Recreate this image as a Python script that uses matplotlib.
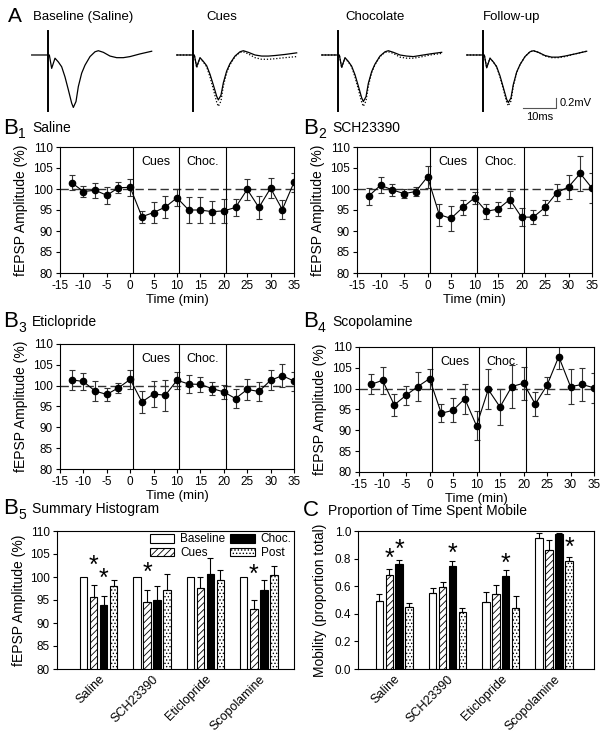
import matplotlib
matplotlib.use("Agg")
import matplotlib.pyplot as plt
import numpy as np

plt.rcParams['font.family'] = ['Liberation Sans', 'DejaVu Sans']
plt.rcParams['hatch.linewidth'] = 0.6
plt.rcParams['axes.linewidth'] = 0.8
plt.rcParams['axes.unicode_minus'] = False

# ---- panel A: example fEPSP traces (ms after stimulus, mV) ----
trace_t = [-5, 0, 0.3, 1.0, 2.0, 3.0, 4.0, 5.0, 6.0, 7.0, 7.5, 8.3, 9.0, 10.0,
           11.0, 12.5, 14.0, 15.0, 16.5, 18.5, 20.5, 22.5, 24.5, 27.5, 31.0]
v_baseline = [0, 0, 0, -0.25, -0.06, -0.13, -0.22, -0.41, -0.65, -0.90, -0.98, -0.87, -0.59, -0.34,
              -0.19, -0.03, 0.06, 0.08, 0.05, -0.02, -0.05, -0.05, -0.03, 0.02, 0.07]
v_cues = [0, 0, 0, -0.22, -0.05, -0.12, -0.20, -0.36, -0.56, -0.77, -0.84, -0.75, -0.52, -0.30,
          -0.16, -0.02, 0.06, 0.08, 0.05, 0.00, -0.02, -0.02, -0.01, 0.01, 0.04]
v_cues_ref = [0, 0, 0, -0.24, -0.06, -0.13, -0.22, -0.41, -0.64, -0.88, -0.96, -0.86, -0.58, -0.33,
              -0.18, -0.03, 0.05, 0.06, 0.02, -0.05, -0.08, -0.08, -0.07, -0.05, -0.03]
v_choc = [0, 0, 0, -0.23, -0.05, -0.12, -0.21, -0.37, -0.58, -0.80, -0.87, -0.78, -0.53, -0.31,
          -0.17, -0.02, 0.06, 0.08, 0.05, 0.00, -0.02, -0.03, -0.01, 0.02, 0.05]
v_choc_ref = [0, 0, 0, -0.24, -0.06, -0.13, -0.22, -0.41, -0.64, -0.88, -0.96, -0.86, -0.58, -0.33,
              -0.18, -0.03, 0.05, 0.06, 0.03, -0.04, -0.06, -0.06, -0.04, 0.00, 0.03]
v_follow = [0, 0, 0, -0.24, -0.06, -0.13, -0.22, -0.39, -0.61, -0.83, -0.89, -0.80, -0.55, -0.32,
            -0.18, -0.03, 0.06, 0.08, 0.05, -0.01, -0.04, -0.04, -0.02, 0.02, 0.07]
v_follow_ref = [0, 0, 0, -0.24, -0.06, -0.13, -0.22, -0.41, -0.64, -0.88, -0.95, -0.86, -0.58, -0.33,
                -0.18, -0.03, 0.06, 0.08, 0.05, -0.02, -0.05, -0.05, -0.03, 0.02, 0.07]
trace_titles = ['Baseline (Saline)', 'Cues', 'Chocolate', 'Follow-up']

# ---- panels B1-B4: fEPSP time course ----
time_min = [-12.5, -10, -7.5, -5, -2.5, 0, 2.5, 5, 7.5, 10, 12.5, 15, 17.5, 20,
            22.5, 25, 27.5, 30, 32.5, 35]
saline_mean = [101.5, 99.4, 99.7, 98.5, 100.3, 100.4, 93.4, 94.4, 95.7, 97.9,
               95.0, 95.0, 94.6, 94.8, 95.6, 99.9, 95.6, 100.2, 95.1, 101.6]
saline_sem = [1.8, 1.3, 1.8, 2.0, 1.3, 2.0, 1.4, 2.4, 2.7, 2.0,
              3.0, 3.0, 2.6, 2.9, 2.0, 2.5, 2.7, 2.4, 2.2, 2.2]
sch_mean = [98.3, 100.9, 99.8, 98.9, 99.4, 102.9, 93.9, 93.0, 95.6, 97.9,
            94.7, 95.2, 97.5, 93.3, 93.3, 95.6, 99.1, 100.5, 103.7, 100.2]
sch_sem = [2.0, 1.9, 1.5, 1.1, 1.1, 2.6, 2.6, 2.9, 1.7, 1.4,
           1.8, 1.7, 2.1, 2.1, 1.7, 1.8, 2.0, 2.8, 4.1, 3.6]
etic_mean = [101.4, 101.0, 98.7, 97.9, 99.5, 101.5, 96.1, 98.0, 97.7, 101.3,
             100.4, 100.3, 99.3, 98.5, 96.9, 99.1, 98.6, 101.3, 102.4, 101.1]
etic_sem = [2.4, 2.0, 2.4, 1.5, 1.2, 2.2, 2.7, 3.1, 3.7, 2.0,
            2.1, 1.8, 1.6, 1.7, 2.2, 2.5, 2.3, 2.4, 2.8, 2.3]
scop_mean = [101.0, 102.0, 96.1, 98.4, 100.5, 102.4, 94.1, 94.8, 97.6, 91.1,
             99.8, 95.6, 100.5, 101.3, 96.3, 100.8, 107.7, 100.5, 101.0, 100.2]
scop_sem = [2.4, 3.3, 2.6, 2.3, 3.5, 2.4, 2.2, 2.9, 3.6, 3.5,
            4.8, 4.4, 5.1, 4.0, 2.8, 2.1, 2.9, 4.2, 3.9, 3.6]
epoch_edges = [0.5, 10.5, 20.5]

# ---- panel B5 / C: summary bars ----
groups = ['Saline', 'SCH23390', 'Eticlopride', 'Scopolamine']
phases = ['Baseline', 'Cues', 'Choc.', 'Post']
fepsp_baseline = [100, 100, 100, 100]
fepsp_baseline_err = [0, 0, 0, 0]
fepsp_cues = [95.6, 94.5, 97.6, 93.0]
fepsp_cues_err = [2.6, 2.6, 2.3, 1.9]
fepsp_choc = [93.9, 95.0, 100.6, 97.1]
fepsp_choc_err = [1.9, 3.0, 3.6, 2.2]
fepsp_post = [98.0, 97.1, 99.3, 100.4]
fepsp_post_err = [1.3, 3.5, 2.2, 2.0]
fepsp_stars = [(0, 1, 103.9), (0, 2, 101.2), (1, 1, 102.3), (3, 1, 102.0)]

mob_baseline = [0.495, 0.553, 0.488, 0.952]
mob_baseline_err = [0.045, 0.034, 0.067, 0.034]
mob_cues = [0.68, 0.591, 0.543, 0.865]
mob_cues_err = [0.046, 0.039, 0.067, 0.068]
mob_choc = [0.76, 0.745, 0.673, 0.981]
mob_choc_err = [0.03, 0.034, 0.041, 0.007]
mob_post = [0.452, 0.413, 0.445, 0.781]
mob_post_err = [0.024, 0.032, 0.086, 0.032]
mob_stars = [(0, 1, 0.85), (0, 2, 0.91), (1, 2, 0.885), (2, 2, 0.81), (3, 3, 0.925)]

W, H = 600, 734
fig = plt.figure(figsize=(6, 7.34), dpi=100)


def px_axes(x0, y0, x1, y1):
    return fig.add_axes([x0 / W, 1 - y1 / H, (x1 - x0) / W, (y1 - y0) / H])


def px_text(x, y, s, **kw):
    fig.text(x / W, 1 - y / H, s, **kw)


def panel_label(x, y, letter, sub, title):
    px_text(x, y, letter, fontsize=16, va='center', ha='left')
    if sub:
        px_text(x + 15, y + 6, sub, fontsize=10, va='center', ha='left')
    px_text(x + 29, y, title, fontsize=10, va='center', ha='left')


# panel A
axA = px_axes(0, 20, 600, 120)
axA.set_xlim(0, 180)
axA.set_ylim(-1.215, 0.654)
axA.axis('off')
stim_ms = [14.5, 58.0, 101.5, 145.0]
solid = [v_baseline, v_cues, v_choc, v_follow]
refs = [None, v_cues_ref, v_choc_ref, v_follow_ref]
title_x = [83, 222, 375, 512]
for i in range(4):
    t = np.array(trace_t) + stim_ms[i]
    if refs[i] is not None:
        axA.plot(t, refs[i], color='k', lw=0.9, ls=(0, (1, 1.5)))
    axA.plot(t, solid[i], color='k', lw=0.9)
    axA.plot([stim_ms[i], stim_ms[i]], [0.449, -1.047], color='k', lw=1.4)
    px_text(title_x[i], 17, trace_titles[i], fontsize=9.5, ha='center', va='center')
axA.plot([156.8, 166.8, 166.8], [-0.996, -0.996, -0.796], color='#555', lw=0.8)
axA.text(167.8, -0.896, '0.2mV', fontsize=8, va='center', ha='left')
axA.text(161.8, -1.153, '10ms', fontsize=8, va='center', ha='center')
px_text(8, 17, 'A', fontsize=15, va='center', ha='left')


def time_course(box, mean, sem):
    ax = px_axes(*box)
    ax.errorbar(time_min, mean, yerr=sem, fmt='o-', color='k', ms=4.5, lw=0.8,
                ecolor='#333', elinewidth=0.8, capsize=2.5, capthick=0.8)
    ax.axhline(100, color='#333', lw=1, dashes=(6, 3), zorder=0)
    for e in epoch_edges:
        ax.axvline(e, color='k', lw=0.8)
    ax.text(5.5, 106.5, 'Cues', fontsize=9, ha='center', va='center')
    ax.text(15.5, 106.5, 'Choc.', fontsize=9, ha='center', va='center')
    ax.set_xlim(-15, 35)
    ax.set_ylim(80, 110)
    ax.set_xticks(range(-15, 40, 5))
    ax.set_yticks(range(80, 115, 5))
    ax.tick_params(labelsize=8.5, length=3, width=0.8, top=False, right=False, pad=2)
    ax.set_xlabel('Time (min)', fontsize=9.5, va='center')
    ax.xaxis.set_label_coords(0.5, -0.215)
    ax.set_ylabel('fEPSP Amplitude (%)', fontsize=10, va='center')
    ax.yaxis.set_label_coords(-0.165, 0.5)
    return ax


time_course((60, 147, 294, 273), saline_mean, saline_sem)
panel_label(3, 128, 'B', '1', 'Saline')
time_course((357, 147, 592, 273), sch_mean, sch_sem)
panel_label(303, 128, 'B', '2', 'SCH23390')
time_course((60, 344, 294, 469), etic_mean, etic_sem)
panel_label(3, 322, 'B', '3', 'Eticlopride')
time_course((359, 347, 594, 472), scop_mean, scop_sem)
panel_label(303, 322, 'B', '4', 'Scopolamine')


def summary(box, vals, errs, stars, ylim, yticks, ylabel, legend):
    ax = px_axes(*box)
    x = np.arange(len(groups))
    styles = [dict(color='white'), dict(color='white', hatch='/////'),
              dict(color='black'), dict(color='white', hatch='.....')]
    for k in range(4):
        pos = x + (k - 1.5) * 0.1875
        ax.bar(pos, vals[k], width=0.14, bottom=0, edgecolor='k', lw=0.8,
               label=phases[k], **styles[k])
        if any(errs[k]):
            ax.errorbar(pos, vals[k], yerr=[np.zeros(4), errs[k]], fmt='none',
                        ecolor='k', elinewidth=0.8, capsize=2.5, capthick=0.8)
    for g, k, y in stars:
        ax.annotate('*', (g + (k - 1.5) * 0.1875, y), xytext=(0, -10), textcoords='offset points',
                    ha='center', va='baseline', fontsize=18)
    ax.set_ylim(*ylim)
    ax.set_xlim(-0.78, 3.66)
    ax.set_yticks(yticks)
    ax.set_xticks(x)
    ax.set_xticklabels(groups, rotation=45, ha='right', rotation_mode='anchor', fontsize=9)
    ax.tick_params(axis='x', length=0, pad=3)
    ax.tick_params(axis='y', labelsize=8.5, length=3, width=0.8, pad=2)
    ax.set_ylabel(ylabel, fontsize=10, va='center')
    ax.yaxis.set_label_coords(-0.16, 0.5)
    if legend:
        ax.legend(ncol=2, loc='upper right', bbox_to_anchor=(1.0, 1.0), frameon=False,
                  fontsize=8.5, handlelength=2.1, handleheight=0.75, handletextpad=0.5,
                  columnspacing=0.4, labelspacing=0.15, borderpad=0.1, borderaxespad=0.1)
    return ax


axB5 = summary((57, 531, 294, 669),
               [fepsp_baseline, fepsp_cues, fepsp_choc, fepsp_post],
               [fepsp_baseline_err, fepsp_cues_err, fepsp_choc_err, fepsp_post_err],
               fepsp_stars, (80, 110), range(80, 115, 5), 'fEPSP Amplitude (%)', True)
panel_label(3, 509, 'B', '5', 'Summary Histogram')

axC = summary((358, 531, 594, 669),
              [mob_baseline, mob_cues, mob_choc, mob_post],
              [mob_baseline_err, mob_cues_err, mob_choc_err, mob_post_err],
              mob_stars, (0, 1.0), np.arange(0, 1.01, 0.2), 'Mobility (proportion total)', False)
axC.set_yticklabels(['%.1f' % v for v in np.arange(0, 1.01, 0.2)])
axC.set_xlim(-0.68, 3.75)
px_text(303, 511, 'C', fontsize=16, va='center', ha='left')
px_text(328, 511, 'Proportion of Time Spent Mobile', fontsize=10, va='center', ha='left')

fig.savefig('out.png', dpi=100)
